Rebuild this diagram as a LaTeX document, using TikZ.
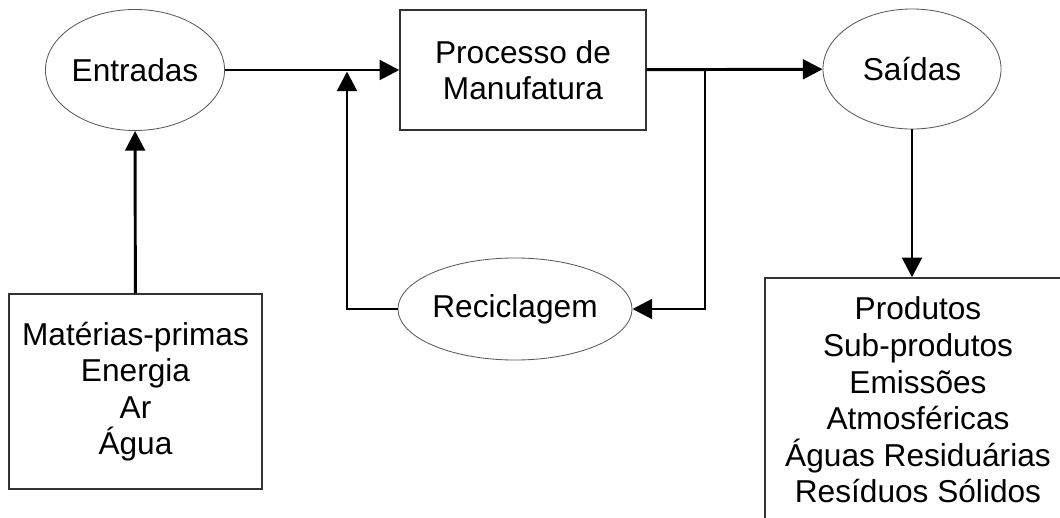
\documentclass[tikz,border=0pt]{standalone}
\usepackage{fontspec}
\setmainfont{Liberation Sans}
\usetikzlibrary{shapes.geometric,arrows.meta}
\tikzset{
  oval/.style={ellipse, draw=black!65, line width=0.6pt, inner sep=0pt},
  box/.style={rectangle, draw=black!80, line width=1pt, align=center, inner sep=0pt},
  flow/.style={line width=2.1pt, -{Triangle[length=14pt,width=14pt]}}
}
\begin{document}
\begin{tikzpicture}[x=0.025cm, y=-0.025cm, font=\fontsize{22.5}{26}\selectfont]
  \useasboundingbox (0,0) rectangle (1060,518);
  \node[oval, minimum width=4.425cm, minimum height=3.025cm] (ent) at (135,70) {Entradas};
  \node[box, minimum width=6.15cm, minimum height=3cm] (proc) at (523,70) {Processo de\\Manufatura};
  \node[oval, minimum width=4.45cm, minimum height=3cm] (sai) at (912,69) {Saídas};
  \node[oval, minimum width=5.85cm, minimum height=2.55cm] (rec) at (515,309) {Reciclagem};
  \node[box, minimum width=6.325cm, minimum height=4.875cm] (ins) at (135.5,391.5)
    {Matérias-primas\\Energia\\Ar\\Água};
  \node[box, minimum width=7.65cm, minimum height=6.1cm] (prod) at (918,400)
    {Produtos\\Sub-produtos\\Emissões\\Atmosféricas\\Águas Residuárias\\Resíduos Sólidos};
  \coordinate (j1) at (347,71.5);
  \coordinate (j2) at (705,70);
  \begin{scope}[flow]
    \draw (ins) to (ent);
    \draw (ent) to (proc);
    \draw (rec.west) -| (j1);
    \draw (proc) to (sai);
    \draw (j2) |- (rec.east);
    \draw (sai.south) to (sai.south |- prod.north);
  \end{scope}
\end{tikzpicture}
\end{document}
